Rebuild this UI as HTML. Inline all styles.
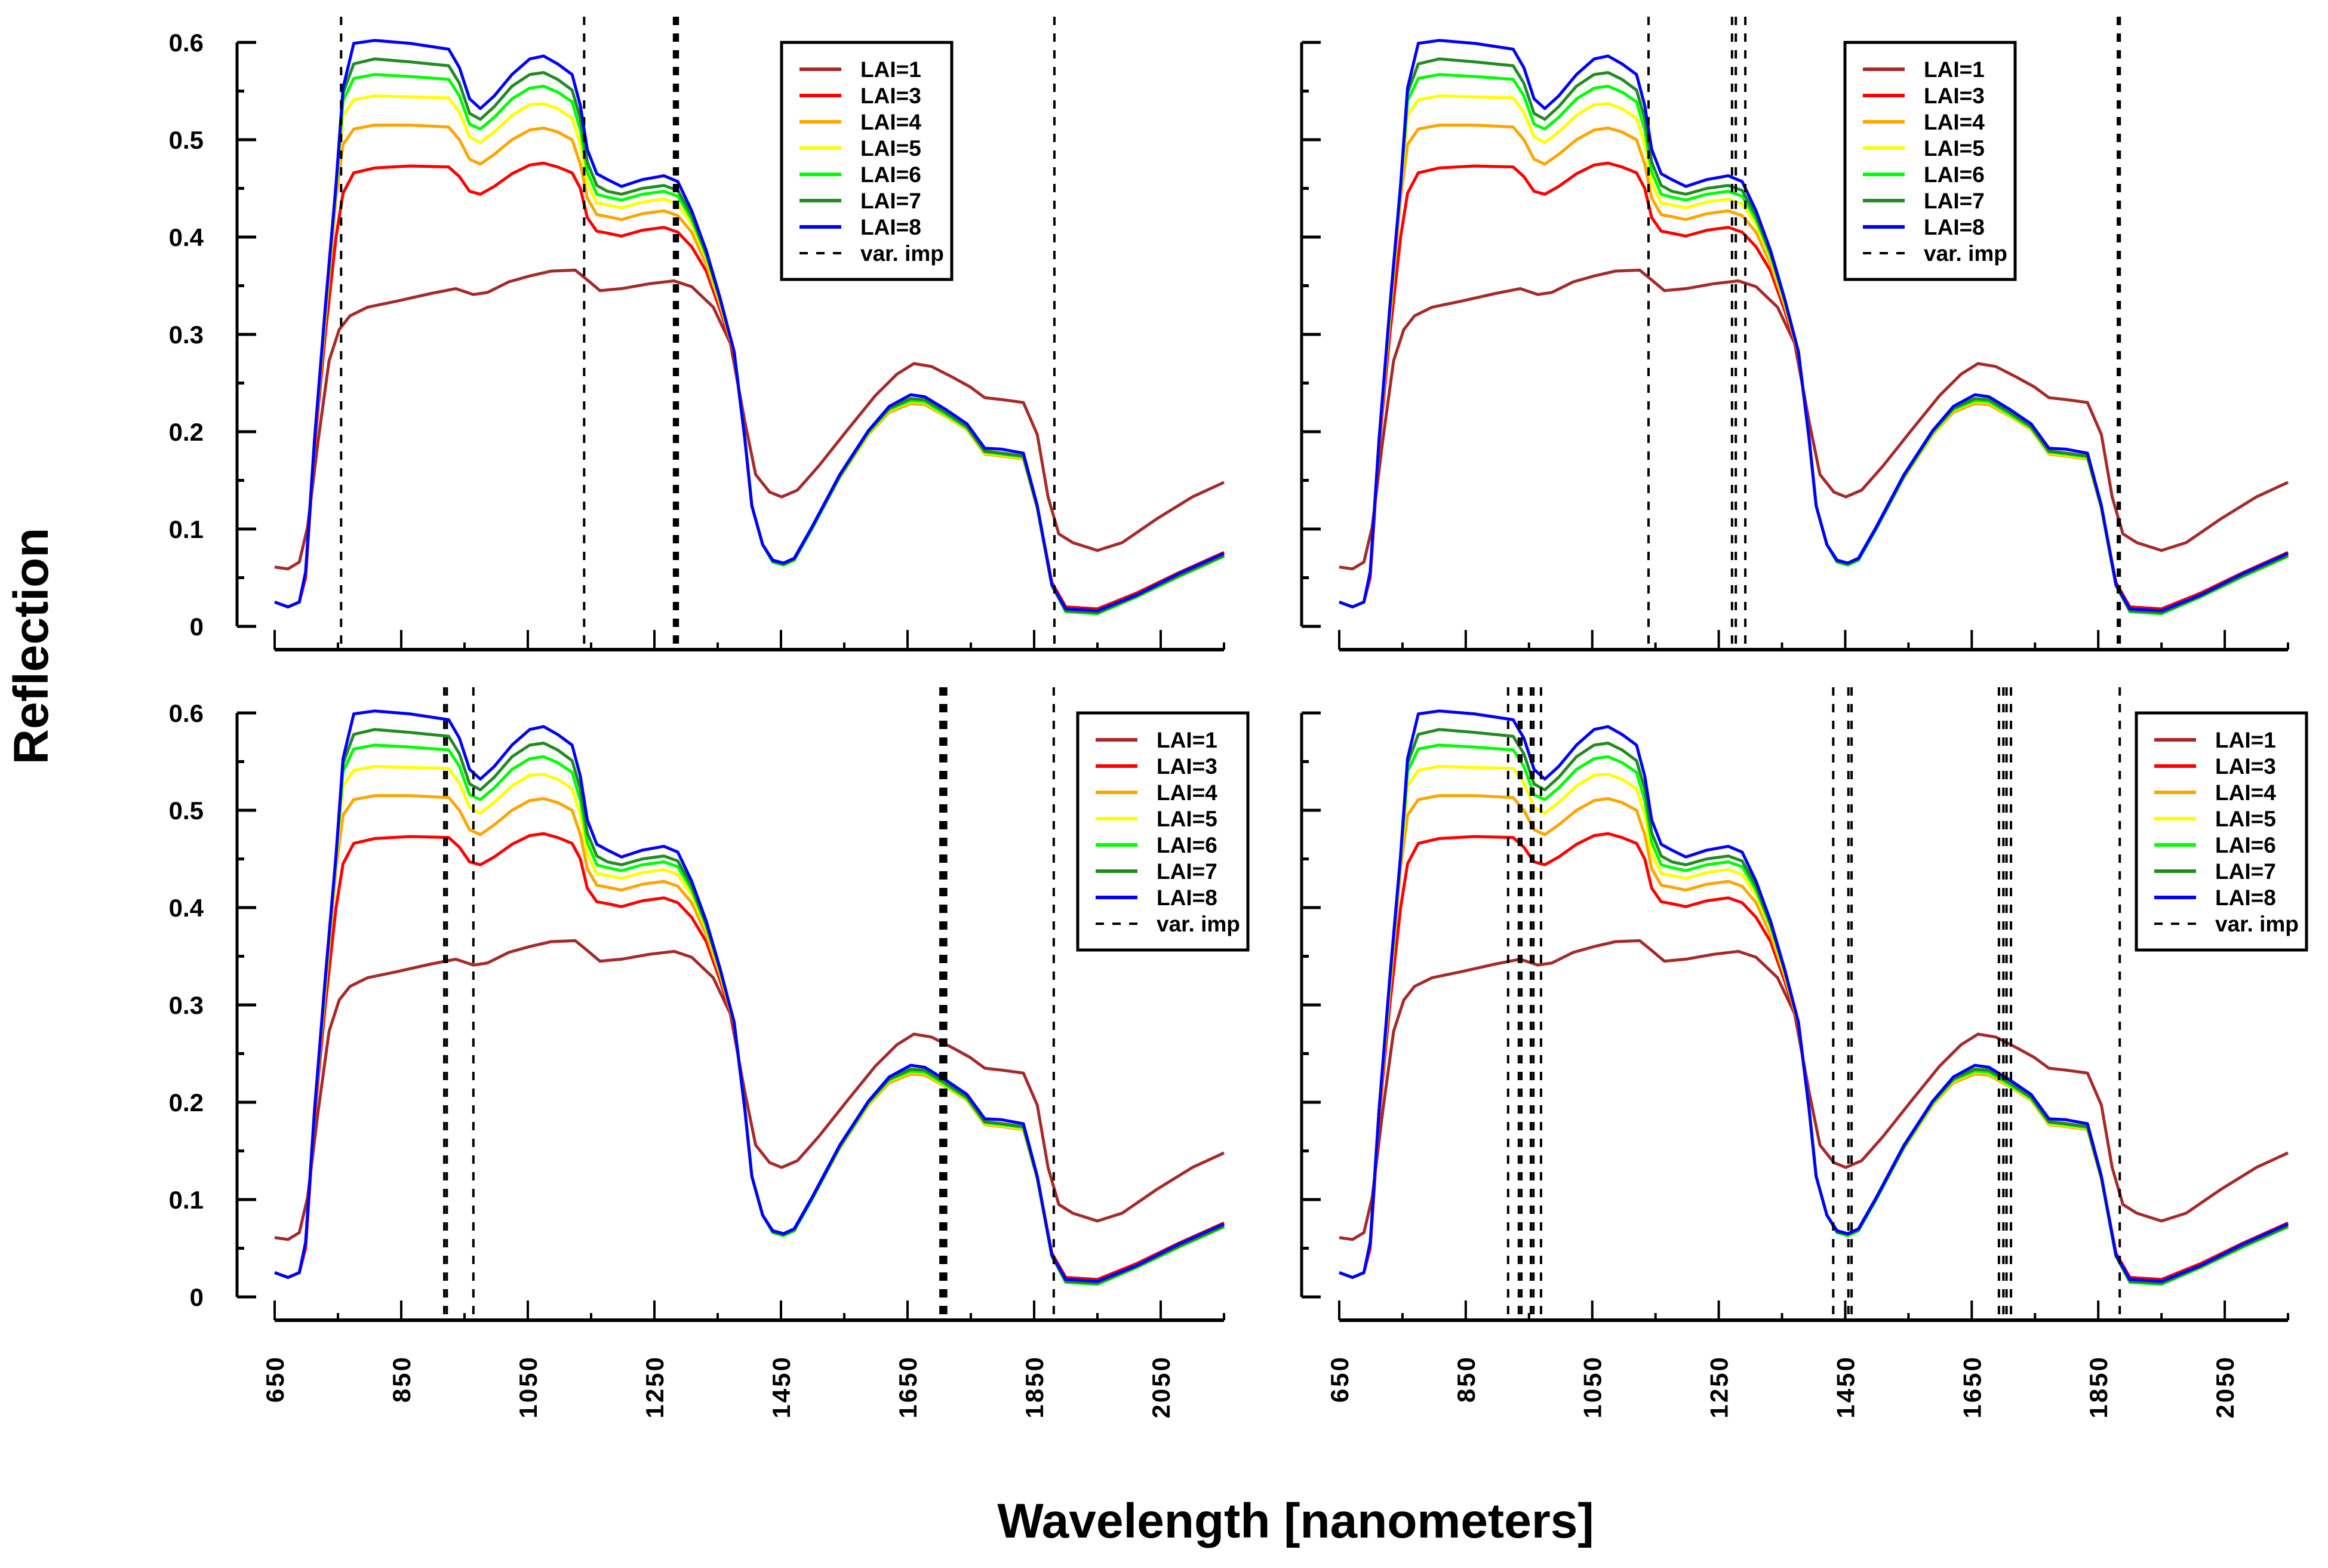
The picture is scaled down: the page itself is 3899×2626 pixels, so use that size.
<!DOCTYPE html>
<html><head><meta charset="utf-8"><style>
html,body{margin:0;padding:0;background:#fff;}
svg{display:block;font-family:"Liberation Sans",Arial,sans-serif;}
</style></head><body>
<svg id="chart" width="3899" height="2626" viewBox="0 0 3899 2626" xmlns="http://www.w3.org/2000/svg">
<text x="2170" y="2575" font-size="82" font-weight="bold" text-anchor="middle">Wavelength [nanometers]</text>
<text transform="translate(80,1082) rotate(-90)" font-size="82" font-weight="bold" text-anchor="middle">Reflection</text>
</svg>
<script>
const wlLow = [650,671,689,702,719,736,752,769,797,842,897,936,964,986,1020,1053,1087,1125,1142,1164,1198,1242,1281,1309,1343,1370,1393,1410,1432,1451,1476,1510,1554,1599,1633,1660,1688,1721,1749,1772,1799,1833,1855,1872,1889,1911,1950,1989,2045,2100,2150];
const lai1 = [0.061,0.059,0.066,0.102,0.192,0.273,0.305,0.319,0.328,0.334,0.342,0.347,0.341,0.343,0.354,0.360,0.365,0.366,0.357,0.345,0.347,0.352,0.355,0.349,0.328,0.291,0.210,0.156,0.138,0.133,0.140,0.165,0.201,0.237,0.259,0.270,0.267,0.256,0.246,0.235,0.233,0.230,0.197,0.133,0.095,0.086,0.078,0.086,0.111,0.133,0.148];
const wl = [650,671,689,699,713,730,747,758,775,808,864,925,942,958,975,997,1025,1053,1075,1097,1120,1133,1144,1159,1176,1198,1231,1265,1287,1309,1332,1354,1376,1393,1404,1421,1437,1454,1471,1499,1543,1588,1621,1655,1677,1710,1744,1772,1799,1833,1855,1878,1900,1950,2011,2078,2150];
const lai3 = [0.025,0.020,0.025,0.050,0.185,0.300,0.400,0.445,0.466,0.471,0.473,0.472,0.462,0.447,0.444,0.452,0.465,0.474,0.476,0.472,0.466,0.450,0.420,0.406,0.404,0.401,0.407,0.410,0.405,0.390,0.365,0.325,0.280,0.192,0.124,0.084,0.068,0.065,0.070,0.102,0.156,0.200,0.224,0.234,0.232,0.219,0.204,0.180,0.178,0.175,0.122,0.045,0.020,0.018,0.034,0.055,0.076];
const lai4 = [0.025,0.020,0.025,0.056,0.190,0.315,0.440,0.495,0.511,0.515,0.515,0.513,0.500,0.480,0.475,0.485,0.500,0.510,0.512,0.508,0.500,0.475,0.440,0.423,0.421,0.418,0.424,0.427,0.422,0.405,0.372,0.330,0.281,0.192,0.124,0.084,0.067,0.064,0.069,0.100,0.153,0.197,0.220,0.229,0.228,0.216,0.202,0.177,0.175,0.172,0.121,0.042,0.016,0.014,0.030,0.051,0.072];
const lai5 = [0.025,0.020,0.025,0.056,0.191,0.320,0.448,0.525,0.541,0.545,0.544,0.543,0.528,0.503,0.497,0.508,0.525,0.536,0.537,0.532,0.522,0.495,0.455,0.435,0.433,0.430,0.436,0.439,0.434,0.413,0.378,0.333,0.282,0.192,0.124,0.084,0.067,0.064,0.069,0.100,0.154,0.198,0.222,0.231,0.230,0.217,0.203,0.178,0.176,0.173,0.121,0.042,0.016,0.014,0.030,0.051,0.072];
const lai6 = [0.025,0.020,0.025,0.056,0.192,0.324,0.451,0.540,0.563,0.567,0.565,0.562,0.545,0.516,0.511,0.523,0.542,0.553,0.555,0.549,0.539,0.510,0.467,0.444,0.441,0.438,0.444,0.447,0.442,0.418,0.381,0.335,0.282,0.192,0.124,0.084,0.066,0.063,0.068,0.100,0.154,0.199,0.223,0.232,0.231,0.218,0.204,0.179,0.177,0.174,0.122,0.042,0.015,0.013,0.030,0.051,0.072];
const lai7 = [0.025,0.020,0.025,0.056,0.192,0.326,0.453,0.548,0.578,0.583,0.580,0.576,0.558,0.527,0.521,0.534,0.555,0.567,0.569,0.562,0.551,0.522,0.477,0.453,0.447,0.444,0.450,0.453,0.448,0.422,0.383,0.336,0.282,0.192,0.124,0.084,0.067,0.064,0.069,0.101,0.155,0.200,0.224,0.234,0.233,0.220,0.205,0.180,0.178,0.175,0.122,0.042,0.016,0.014,0.031,0.052,0.073];
const lai8 = [0.025,0.020,0.025,0.056,0.192,0.328,0.454,0.553,0.599,0.602,0.599,0.593,0.574,0.542,0.532,0.545,0.567,0.583,0.586,0.578,0.567,0.535,0.490,0.465,0.459,0.452,0.459,0.463,0.457,0.427,0.386,0.337,0.282,0.192,0.124,0.084,0.068,0.065,0.070,0.102,0.156,0.201,0.226,0.238,0.236,0.223,0.208,0.183,0.182,0.178,0.124,0.043,0.018,0.016,0.032,0.054,0.075];
const legendLabels = ["LAI=1","LAI=3","LAI=4","LAI=5","LAI=6","LAI=7","LAI=8","var. imp"];
const xTickLabels = ["650","850","1050","1250","1450","1650","1850","2050"];
const yTickLabels = ["0","0.1","0.2","0.3","0.4","0.5","0.6"];
const varImpTL = [755,1139,1281,1284,1287,1882];
const varImpTR = [1139,1271,1277,1292,1881,1884];
const varImpBL = [918,922,964,1702,1705,1708,1711,1881];
const varImpBR = [917,934,938,953,957,969,1431,1455,1460,1693,1700,1705,1712,1884];

const NS="http://www.w3.org/2000/svg";
const svg=document.getElementById('chart');
function mk(tag,attrs,parent){const e=document.createElementNS(NS,tag);for(const k in attrs)e.setAttribute(k,attrs[k]);(parent||svg).appendChild(e);return e;}
const seriesList=[
 {name:'lai-1',x:wlLow,y:lai1,c:'#a52a2a'},
 {name:'lai-3',x:wl,y:lai3,c:'#ff0000'},
 {name:'lai-4',x:wl,y:lai4,c:'#ffa500'},
 {name:'lai-5',x:wl,y:lai5,c:'#ffff00'},
 {name:'lai-6',x:wl,y:lai6,c:'#00ff00'},
 {name:'lai-7',x:wl,y:lai7,c:'#228b22'},
 {name:'lai-8',x:wl,y:lai8,c:'#0000ff'}];
const panels=[
 {id:'top-left',ax:397,x0:460,x1:2050,y0:1049,y6:71,xl:1088,vs:28,leg:[1309,71],vi:varImpTL,labels:false,ylabels:true},
 {id:'top-right',ax:2180,x0:2243,x1:3832,y0:1049,y6:71,xl:1088,vs:28,leg:[3090,71],vi:varImpTR,labels:false,ylabels:false},
 {id:'bottom-left',ax:397,x0:460,x1:2050,y0:2172,y6:1194,xl:2211,vs:1151,leg:[1805,1194],vi:varImpBL,labels:true,ylabels:true},
 {id:'bottom-right',ax:2180,x0:2243,x1:3832,y0:2172,y6:1194,xl:2211,vs:1151,leg:[3578,1194],vi:varImpBR,labels:true,ylabels:false}];
panels.forEach(p=>{
 const g=mk('g',{});
 
 
 const X=w=>p.x0+(w-650)/1500*(p.x1-p.x0);
 const Y=v=>p.y0-v/0.6*(p.y0-p.y6);
 const ya=mk('line',{x1:p.ax,y1:Y(0.6),x2:p.ax,y2:Y(0),stroke:'#000','stroke-width':5},g);
 
 
 for(let i=0;i<=12;i++){const v=i*0.05;const maj=i%2===0;
  mk('line',{x1:p.ax,y1:Y(v),x2:p.ax+(maj?32:12),y2:Y(v),stroke:'#000','stroke-width':5},g);}
 if(p.ylabels){yTickLabels.forEach((t,i)=>{const tx=mk('text',{x:p.ax-56,y:Y(i*0.1)+15,'font-size':42,'font-weight':'bold','text-anchor':'end'},g);tx.textContent=t;
  
  });}
 const xa=mk('line',{x1:p.x0,y1:p.xl,x2:p.x1,y2:p.xl,stroke:'#000','stroke-width':6},g);
 
 
 for(let w=650;w<=2150;w+=100){const maj=((w-650)%200===0);
  mk('line',{x1:X(w),y1:p.xl,x2:X(w),y2:p.xl-(maj?33:12),stroke:'#000','stroke-width':4},g);}
 if(p.labels){xTickLabels.forEach(t=>{const w=+t;const tx=mk('text',{transform:`translate(${X(w)+15},2270) rotate(-90)`,'font-size':42,'font-weight':'bold','text-anchor':'end','letter-spacing':'3'},g);tx.textContent=t;
  
  });}
 seriesList.forEach(s=>{let d='';s.x.forEach((w,i)=>{d+=(i?'L':'M')+X(w).toFixed(1)+','+Y(s.y[i]).toFixed(1);});
  const pa=mk('path',{d:d,fill:'none',stroke:s.c,'stroke-width':5,'stroke-linejoin':'round'},g);
  
  });
 p.vi.forEach(w=>{const l=mk('line',{x1:X(w),y1:p.vs,x2:X(w),y2:p.xl,stroke:'#000','stroke-width':4,'stroke-dasharray':'14 14'},g);
  
  });
 const [lx,ly]=p.leg;
 const lg=mk('g',{},g);
 
 
 mk('rect',{x:lx,y:ly,width:285,height:397,fill:'#fff',stroke:'#000','stroke-width':5},lg);
 legendLabels.forEach((t,i)=>{const cy=ly+45+44*i;
  const isV=i===7;
  const ln=mk('line',{x1:lx+30,y1:cy,x2:lx+100,y2:cy,stroke:isV?'#000':seriesList[i].c,'stroke-width':isV?4:6},lg);
  if(isV)ln.setAttribute('stroke-dasharray','14 14');
  const tx=mk('text',{x:lx+132,y:cy+13,'font-size':37,'font-weight':'bold'},lg);tx.textContent=t;
  
  });
});
</script>
</body></html>
